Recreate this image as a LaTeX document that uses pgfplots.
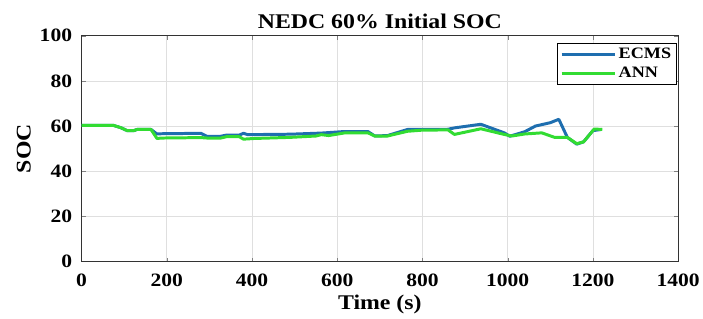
\documentclass[border=0pt]{standalone}
\usepackage{pgfplots}
\pgfplotsset{compat=1.18}
\usepackage{fontspec}
\setmainfont{Liberation Serif}[FakeStretch=1.14]
\definecolor{ecms}{RGB}{30,110,175}
\definecolor{ann}{RGB}{50,220,50}
\begin{document}
\begin{tikzpicture}
\begin{axis}[
  at={(0,0)}, anchor=origin,
  scale only axis, width=600pt, height=227pt,
  xmin=0, xmax=1400, ymin=0, ymax=100,
  xtick={0,200,...,1400}, ytick={0,20,...,100},
  grid=major, major grid style={gray!25, line width=0.6pt},
  tick align=inside, tick pos=both, major tick length=4pt,
  axis line style={line width=0.8pt, black!80},
  ticklabel style={font=\fontsize{19}{19}\selectfont\bfseries},
  xticklabel style={yshift=-9pt},
  yticklabel style={xshift=-6pt},
  /pgf/number format/assume math mode=true,
  /pgf/number format/1000 sep={},
  title={\fontsize{21}{21}\selectfont\bfseries NEDC 60\% Initial SOC},
  title style={yshift=-2pt},
  xlabel={\fontsize{21}{21}\selectfont\bfseries Time (s)},
  ylabel={\fontsize{21}{21}\selectfont\bfseries SOC},
  xlabel style={yshift=-1pt},
  ylabel style={yshift=2pt},
  legend style={at={(0.997,0.969)}, anchor=north east, draw=black, line width=0.6pt,
    font=\fontsize{16}{16}\selectfont\bfseries, row sep=3pt, inner sep=3pt},
  legend cell align=left,
  legend image code/.code={\draw[#1, line width=3pt] (0pt,0pt) -- (54pt,0pt);},
]
\addplot[ecms, line width=3pt, line join=round] coordinates {
(0,60.3) (75,60.3) (92,59.3) (107,58) (123,58) (130,58.5) (163,58.5) (177,56.5)
(187,56.6) (280,56.8) (295,55.4) (327,55.5) (340,56) (370,56) (380,56.8) (390,56.2)
(490,56.4) (563,56.9) (618,57.6) (672,57.6) (688,55.6) (718,55.8) (765,58.5)
(860,58.6) (875,59.2) (937,60.8) (992,57) (1005,55.5) (1040,57.5) (1065,60)
(1100,61.5) (1120,63) (1140,55) (1162,52) (1178,53) (1200,58) (1220,58.5)
};
\addlegendentry{ECMS}
\addplot[ann, line width=3pt, line join=round] coordinates {
(0,60.3) (75,60.3) (92,59.3) (107,58) (123,58) (130,58.5) (163,58.5) (177,54.5)
(187,54.7) (280,54.9) (295,54.7) (327,54.7) (340,55.3) (370,55.3) (380,54.2)
(404,54.5) (490,55) (550,55.6) (563,56.2) (580,55.8) (618,57) (672,57) (688,55.6)
(718,55.6) (765,57.7) (800,58.2) (860,58.3) (875,56.3) (937,58.8) (992,56.3)
(1010,55.6) (1040,56.5) (1080,57) (1110,55) (1140,55) (1162,52.2) (1178,53)
(1203,58.7) (1222,58.5)
};
\addlegendentry{ANN}
\end{axis}
\useasboundingbox (-82pt,-57pt) rectangle (621pt,263pt);
\end{tikzpicture}
\end{document}
